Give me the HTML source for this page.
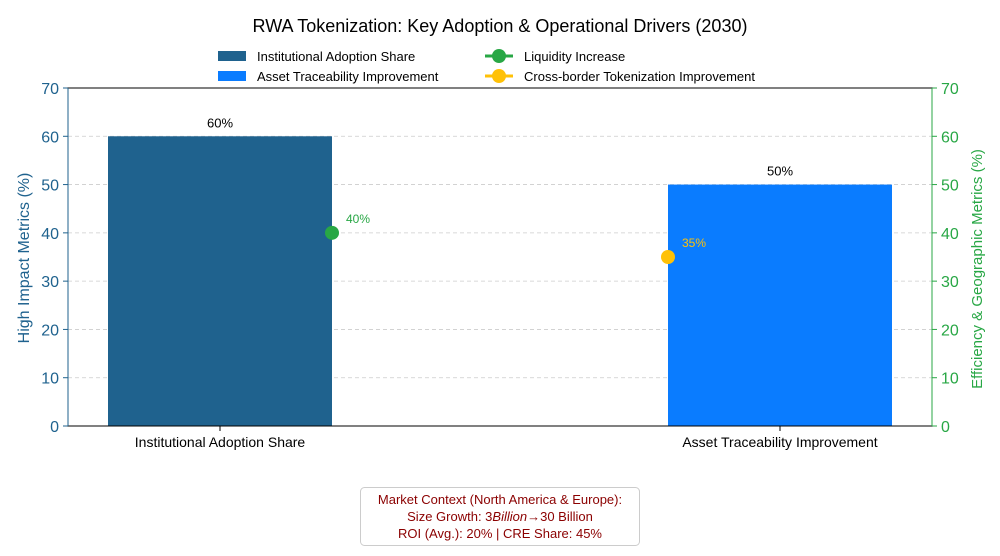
<!DOCTYPE html>
<html><head><meta charset="utf-8"><style>
body{margin:0;background:#fff;font-family:"Liberation Sans",sans-serif}
svg{display:block}
</style></head><body>
<svg id="chart" width="1000" height="556" viewBox="0 0 1000 556" xmlns="http://www.w3.org/2000/svg">
<text x="500" y="32" text-anchor="middle" font-size="18" fill="#000">RWA Tokenization: Key Adoption &amp; Operational Drivers (2030)</text>
<g id="legend" font-size="13" fill="#000">
<g><rect x="218" y="51" width="28" height="10" fill="#1f628e"/><text x="257" y="61">Institutional Adoption Share</text></g>
<g><rect x="218" y="71" width="28" height="10" fill="#0a7cff"/><text x="257" y="81">Asset Traceability Improvement</text></g>
<g><line x1="485" y1="56" x2="513" y2="56" stroke="#28a745" stroke-width="3"/><circle cx="499" cy="56" r="7" fill="#28a745"/><text x="524" y="61">Liquidity Increase</text></g>
<g><line x1="485" y1="76" x2="513" y2="76" stroke="#ffc107" stroke-width="3"/><circle cx="499" cy="76" r="7" fill="#ffc107"/><text x="524" y="81">Cross-border Tokenization Improvement</text></g>
</g>
<g id="grid"></g>
<g id="bars"></g>
<g id="points"></g>
<g id="axes"></g>
<text transform="translate(29,258) rotate(-90)" text-anchor="middle" font-size="16" fill="#1f628e">High Impact Metrics (%)</text>
<text transform="translate(982,269) rotate(-90)" text-anchor="middle" font-size="15" fill="#28a745">Efficiency &amp; Geographic Metrics (%)</text>
<g>
<rect x="360.5" y="487.5" width="279" height="58" rx="4" fill="#fff" stroke="#ccc"/>
<text x="500" y="504" text-anchor="middle" font-size="13" fill="#8b0000">Market Context (North America &amp; Europe):</text>
<text x="500" y="521" text-anchor="middle" font-size="13" fill="#8b0000">Size Growth: 3<tspan font-style="italic">Billion</tspan>→30 Billion</text>
<text x="500" y="538" text-anchor="middle" font-size="13" fill="#8b0000">ROI (Avg.): 20% | CRE Share: 45%</text>
</g>
</svg>
<script>
const categories = ["Institutional Adoption Share", "Asset Traceability Improvement"];
const barValues = [60, 50];
const pointValues = [40, 35];
const pointLabels = ["40%", "35%"];
const barLabels = ["60%", "50%"];
const ticks = [0, 10, 20, 30, 40, 50, 60, 70];

const NS = "http://www.w3.org/2000/svg";
const L = 68, R = 932, T = 88, B = 426, YMAX = 70;
const y = v => B - (v / YMAX) * (B - T);
const catX = i => 220 + i * 560;
const barW = 224;
const barColors = ["#1f628e", "#0a7cff"];
const ptColors = ["#28a745", "#ffc107"];
function mk(tag, attrs, parent, txt) {
  const e = document.createElementNS(NS, tag);
  for (const k in attrs) e.setAttribute(k, attrs[k]);
  if (txt !== undefined) e.textContent = txt;
  parent.appendChild(e); return e;
}
const grid = document.getElementById("grid"), axes = document.getElementById("axes");
ticks.forEach(t => {
  const g = mk("line", {x1: L, x2: R, y1: y(t), y2: y(t), stroke: "#ccc", "stroke-dasharray": "4,3", "stroke-width": 0.8}, grid);
  
  
  mk("line", {x1: L - 5, x2: L, y1: y(t), y2: y(t), stroke: "#1f628e"}, axes);
  const a = mk("text", {x: L - 9, y: y(t) + 6, "text-anchor": "end", "font-size": 16, fill: "#1f628e"}, axes, t);
  
  
  mk("line", {x1: R, x2: R + 5, y1: y(t), y2: y(t), stroke: "#28a745"}, axes);
  const b = mk("text", {x: R + 9, y: y(t) + 6, "font-size": 16, fill: "#28a745"}, axes, t);
  
  
});
const bars = document.getElementById("bars"), pts = document.getElementById("points");
categories.forEach((c, i) => {
  const r = mk("rect", {x: catX(i) - barW / 2, y: y(barValues[i]), width: barW, height: B - y(barValues[i]), fill: barColors[i]}, bars);
  
  
  const bl = mk("text", {x: catX(i), y: y(barValues[i]) - 9, "text-anchor": "middle", "font-size": 13, fill: "#000"}, bars, barLabels[i]);
  
  
  mk("line", {x1: catX(i), x2: catX(i), y1: B, y2: B + 5, stroke: "#000"}, axes);
  const xl = mk("text", {x: catX(i), y: B + 21, "text-anchor": "middle", "font-size": 14, fill: "#000"}, axes, c);
  
  
  const px = i === 0 ? catX(i) + barW / 2 : catX(i) - barW / 2;
  const p = mk("circle", {cx: px, cy: y(pointValues[i]), r: 7, fill: ptColors[i]}, pts);
  
  
  const pl = mk("text", {x: px + 14, y: y(pointValues[i]) - 10, "font-size": 12, fill: ptColors[i]}, pts, pointLabels[i]);
  
  
});
mk("rect", {x: L, y: T, width: R - L, height: B - T, fill: "none", stroke: "#000", "stroke-width": 1}, axes);
mk("line", {x1: L, x2: L, y1: T, y2: B, stroke: "#1f628e"}, axes);
mk("line", {x1: R, x2: R, y1: T, y2: B, stroke: "#28a745"}, axes);
</script>
</body></html>
